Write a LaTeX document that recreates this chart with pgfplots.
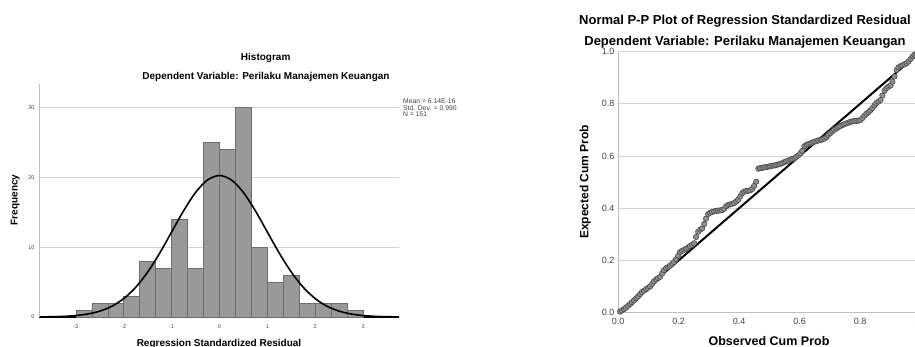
\documentclass[border=0pt]{standalone}
\usepackage{pgfplots}
\pgfplotsset{compat=1.18}
\usepackage{fontspec}
\setmainfont{Liberation Sans}
\definecolor{histfill}{HTML}{999999}
\definecolor{histedge}{HTML}{6E6E6E}
\definecolor{gridc}{HTML}{D4D4D4}
\definecolor{axc}{HTML}{BDBDBD}
\definecolor{tickc}{HTML}{444444}
\definecolor{ptfill}{HTML}{8E8E8E}
\definecolor{ptedge}{HTML}{4A4A4A}
\begin{document}
\begin{tikzpicture}
\useasboundingbox (0pt,0pt) rectangle (915pt,347pt);
\clip (0pt,0pt) rectangle (915pt,347pt);
\fill[white] (0pt,0pt) rectangle (915pt,347pt);
% ---------------- Histogram ----------------
\begin{axis}[
  at={(39pt,30pt)}, anchor=south west,
  scale only axis, width=360pt, height=233pt,
  xmin=-3.77, xmax=3.75, ymin=0, ymax=33.4,
  axis x line*=bottom, axis y line*=left,
  x axis line style={-, black, line width=1.3pt},
  y axis line style={-, axc, line width=0.7pt},
  xtick={-3,-2,-1,0,1,2,3}, ytick={0,10,20,30},
  major tick length=0pt,
  ymajorgrids, grid style={gridc, line width=0.8pt},
  /pgf/number format/assume math mode=true,
  ticklabel style={font=\fontsize{5.5}{6}\selectfont, text=tickc},
  xticklabel style={yshift=-4pt},
  yticklabel style={xshift=-1pt},
  clip=false,
]
\addplot[ybar interval, fill=histfill, draw=histedge, line width=0.5pt] coordinates {
(-3.0000,1) (-2.6667,2) (-2.3333,2) (-2.0000,3) (-1.6667,8) (-1.3333,7)
(-1.0000,14) (-0.6667,7) (-0.3333,25) (0.0000,24) (0.3333,30) (0.6667,10)
(1.0000,5) (1.3333,6) (1.6667,2) (2.0000,2) (2.3333,2) (2.6667,1) (3.0000,1)
};
\addplot[black, line width=1.6pt, smooth] coordinates {
(-3.75,0.016) (-3.5,0.04) (-3.25,0.09) (-3.0,0.21) (-2.75,0.43) (-2.5,0.84)
(-2.25,1.53) (-2.0,2.64) (-1.75,4.25) (-1.5,6.44) (-1.25,9.14) (-1.0,12.18)
(-0.75,15.22) (-0.5,17.85) (-0.25,19.64) (0,20.28) (0.25,19.64) (0.5,17.85)
(0.75,15.22) (1.0,12.18) (1.25,9.14) (1.5,6.44) (1.75,4.25) (2.0,2.64)
(2.25,1.53) (2.5,0.84) (2.75,0.43) (3.0,0.21) (3.25,0.09) (3.5,0.04) (3.75,0.016)
};
\end{axis}
\node[anchor=base, font=\bfseries\fontsize{10}{12}\selectfont] at (265.7pt,286.3pt) {Histogram};
\node[anchor=base, font=\bfseries\fontsize{10}{12}\selectfont] at (266pt,267.7pt) {Dependent Variable: Perilaku Manajemen Keuangan};
\node[anchor=base, rotate=90, font=\bfseries\fontsize{10}{12}\selectfont] at (17.7pt,147pt) {Frequency};
\node[anchor=base, font=\bfseries\fontsize{10}{12}\selectfont] at (219pt,0.5pt) {Regression Standardized Residual};
\node[anchor=base west, inner sep=0pt, font=\fontsize{6.8}{7}\selectfont, text=tickc] at (403pt,243pt) {Mean = 6.14E-16};
\node[anchor=base west, inner sep=0pt, font=\fontsize{6.8}{7}\selectfont, text=tickc] at (403pt,236.8pt) {Std. Dev. = 0.990};
\node[anchor=base west, inner sep=0pt, font=\fontsize{6.8}{7}\selectfont, text=tickc] at (403pt,230.5pt) {N = 151};
% ---------------- P-P plot ----------------
\begin{axis}[
  at={(618pt,34.3pt)}, anchor=south west,
  scale only axis, width=302.5pt, height=261pt,
  xmin=0, xmax=1, ymin=0, ymax=1,
  axis x line*=bottom, axis y line*=left,
  axis line style={-, axc, line width=0.8pt},
  xtick={0,0.2,0.4,0.6,0.8,1.0}, ytick={0,0.2,0.4,0.6,0.8,1.0},
  major tick length=0pt,
  ymajorgrids, grid style={gridc, line width=0.8pt},
  /pgf/number format/assume math mode=true,
  /pgf/number format/fixed,
  /pgf/number format/fixed zerofill,
  /pgf/number format/precision=1,
  ticklabel style={font=\fontsize{9}{10}\selectfont, text=tickc},
  xticklabel style={yshift=-2pt},
  yticklabel style={xshift=0pt},
]
\addplot[black, line width=2pt] coordinates {(0,0) (1,1)};
\addplot[only marks, mark=*, mark size=2.7pt, mark options={fill=ptfill, draw=ptedge, line width=0.6pt}] coordinates {
(0.007,0.004) (0.013,0.009) (0.020,0.014) (0.026,0.019) (0.033,0.026) (0.040,0.033)
(0.046,0.040) (0.053,0.047) (0.060,0.055) (0.066,0.062) (0.073,0.071) (0.079,0.079)
(0.086,0.084) (0.093,0.090) (0.099,0.095) (0.106,0.101) (0.113,0.110) (0.119,0.120)
(0.126,0.127) (0.132,0.132) (0.139,0.137) (0.146,0.150) (0.152,0.163) (0.159,0.171)
(0.166,0.175) (0.172,0.180) (0.179,0.187) (0.185,0.194) (0.192,0.205) (0.199,0.218)
(0.205,0.232) (0.212,0.237) (0.219,0.241) (0.225,0.245) (0.232,0.250) (0.238,0.255)
(0.245,0.260) (0.252,0.266) (0.258,0.290) (0.265,0.310) (0.272,0.318) (0.278,0.323)
(0.285,0.340) (0.291,0.360) (0.298,0.378) (0.305,0.383) (0.311,0.386) (0.318,0.388)
(0.325,0.390) (0.331,0.391) (0.338,0.392) (0.344,0.393) (0.351,0.398) (0.358,0.408)
(0.364,0.413) (0.371,0.415) (0.377,0.417) (0.384,0.420) (0.391,0.426) (0.397,0.433)
(0.404,0.445) (0.411,0.458) (0.417,0.464) (0.424,0.466) (0.430,0.467) (0.437,0.469)
(0.444,0.474) (0.450,0.486) (0.457,0.502) (0.464,0.552) (0.470,0.554) (0.477,0.555)
(0.483,0.557) (0.490,0.558) (0.497,0.560) (0.503,0.561) (0.510,0.563) (0.517,0.564)
(0.523,0.566) (0.530,0.568) (0.536,0.570) (0.543,0.573) (0.550,0.577) (0.556,0.580)
(0.563,0.583) (0.570,0.586) (0.576,0.589) (0.583,0.592) (0.589,0.597) (0.596,0.603)
(0.603,0.610) (0.609,0.620) (0.616,0.638) (0.623,0.643) (0.629,0.646) (0.636,0.649)
(0.642,0.652) (0.649,0.655) (0.656,0.657) (0.662,0.660) (0.669,0.662) (0.675,0.664)
(0.682,0.667) (0.689,0.672) (0.695,0.681) (0.702,0.688) (0.709,0.695) (0.715,0.701)
(0.722,0.706) (0.728,0.711) (0.735,0.715) (0.742,0.719) (0.748,0.722) (0.755,0.725)
(0.762,0.728) (0.768,0.731) (0.775,0.733) (0.781,0.734) (0.788,0.735) (0.795,0.736)
(0.801,0.738) (0.808,0.746) (0.815,0.755) (0.821,0.762) (0.828,0.768) (0.834,0.775)
(0.841,0.784) (0.848,0.794) (0.854,0.803) (0.861,0.809) (0.868,0.815) (0.874,0.832)
(0.881,0.850) (0.887,0.860) (0.894,0.866) (0.901,0.870) (0.907,0.885) (0.914,0.905)
(0.921,0.930) (0.927,0.940) (0.934,0.945) (0.940,0.948) (0.947,0.952) (0.954,0.956)
(0.960,0.962) (0.967,0.972) (0.974,0.982) (0.980,0.988) (0.987,0.992) (0.993,0.996)
(1.000,1.000)
};
\end{axis}
\node[anchor=base, font=\bfseries\fontsize{13}{15}\selectfont] at (745pt,322pt) {Normal P-P Plot of Regression Standardized Residual};
\node[anchor=base, font=\bfseries\fontsize{13}{15}\selectfont] at (745pt,301.3pt) {Dependent Variable: Perilaku Manajemen Keuangan};
\node[anchor=base, rotate=90, font=\bfseries\fontsize{12}{14}\selectfont] at (588.3pt,165.3pt) {Expected Cum Prob};
\node[anchor=base, font=\bfseries\fontsize{12.5}{14}\selectfont] at (769pt,1.3pt) {Observed Cum Prob};
\end{tikzpicture}
\end{document}
